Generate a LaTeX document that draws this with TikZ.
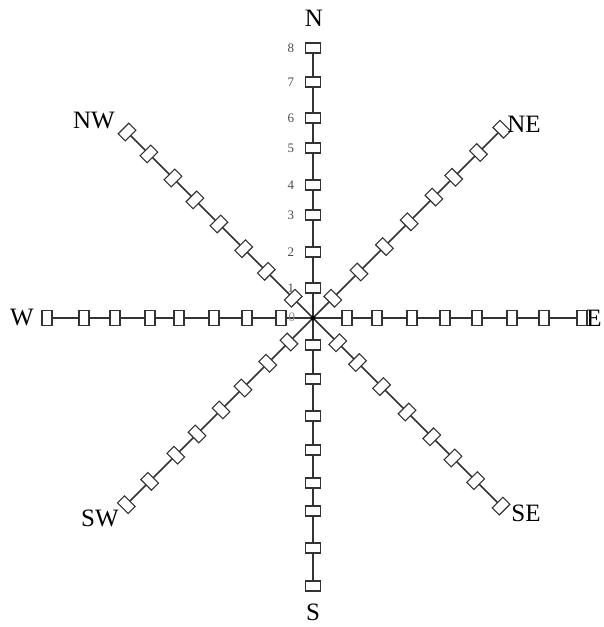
\documentclass[tikz,border=0pt]{standalone}
\usepackage{fontspec}
\setmainfont{Liberation Serif}
\definecolor{armgray}{HTML}{333333}
\tikzset{
  arm/.style={line width=1.6pt, color=armgray},
  tick/.style={rectangle, draw=armgray, fill=white, line width=1.1pt,
    minimum width=10pt, minimum height=15pt, inner sep=0pt},
  compass/.style={font=\fontsize{25}{25}\selectfont, inner sep=0pt},
  num/.style={font=\fontsize{13}{13}\selectfont, text=black!70, inner sep=0pt}
}

\begin{document}
\begin{tikzpicture}[x=1pt,y=1pt]
\useasboundingbox (-313,-309) rectangle (291,318);
\coordinate (c) at (0,0);
% arms: direction / angle / length / box distances
\foreach \dir/\ang/\len/\dlist in {
  N/90/270/{30,66,103,133,170,200,236,270},
  S/270/268/{27,61,98,132,165,193,230,268},
  W/180/266/{32,66,99,134,163,198,229,266},
  E/0/269/{34,64,99,132,164,199,231,269},
  NE/45/267/{28,65,101,136,171,199,234,267},
  NW/135/263/{28,66,98,133,167,198,232,263},
  SW/225/264/{34,64,99,130,164,194,231,264},
  SE/315/266/{35,63,97,133,168,198,230,266}} {
  \coordinate (\dir-tip) at (\ang:\len);
  \draw[arm] (c) -- (\dir-tip);
  \foreach \d [count=\i] in \dlist {
    \node[tick, rotate=\ang] (\dir-\i) at (\ang:\d) {};
  }
}
\fill[black] (c) circle (2.4pt);
% scale on the north arm
\foreach \i in {1,...,8} {
  \node[num] (num-\i) at ([xshift=-22pt]N-\i) {\i};
}
\node[num, text=black!45] (num-0) at (-21,1) {0};
% compass points
\foreach \dir/\pos in {N/{(1,300)}, S/{(0,-294)}, W/{(-291,0)}, E/{(281,0)},
  NE/{(211,194)}, NW/{(-219,197)}, SW/{(-213,-200)}, SE/{(213,-195)}} {
  \node[compass] (lbl-\dir) at \pos {\dir};
}
\end{tikzpicture}
\end{document}
